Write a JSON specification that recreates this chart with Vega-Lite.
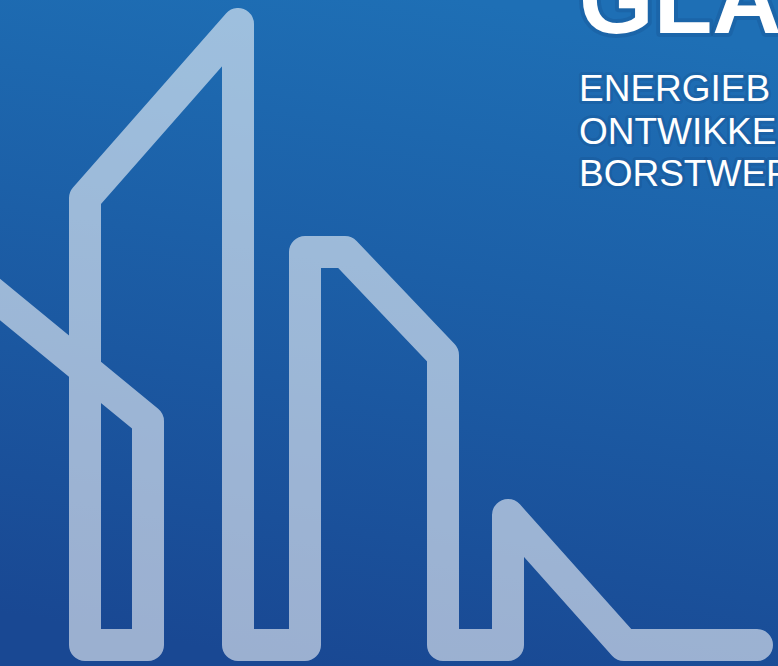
{
  "$schema": "https://vega.github.io/schema/vega-lite/v6.json",
  "width": 778,
  "height": 666,
  "padding": 0,
  "autosize": {"type": "fit", "contains": "padding"},
  "config": {"view": {"stroke": null}},
  "datasets": {
    "bg": [{"x0": 0, "x1": 778, "y0": 0, "y1": 666}],
    "path": [
      {"i": 0, "x": -25, "y": 279},
      {"i": 1, "x": 148, "y": 421},
      {"i": 2, "x": 148, "y": 645},
      {"i": 3, "x": 85, "y": 645},
      {"i": 4, "x": 85, "y": 198},
      {"i": 5, "x": 238, "y": 24},
      {"i": 6, "x": 238, "y": 645},
      {"i": 7, "x": 305, "y": 645},
      {"i": 8, "x": 305, "y": 252},
      {"i": 9, "x": 345, "y": 252},
      {"i": 10, "x": 443, "y": 355},
      {"i": 11, "x": 443, "y": 645},
      {"i": 12, "x": 508, "y": 645},
      {"i": 13, "x": 508, "y": 515},
      {"i": 14, "x": 624, "y": 645},
      {"i": 15, "x": 757, "y": 645}
    ],
    "title": [{"x": 579, "y": 33, "t": "GLA"}],
    "sub": [
      {"x": 579, "y": 101, "t": "ENERGIEB"},
      {"x": 579, "y": 144, "t": "ONTWIKKE"},
      {"x": 579, "y": 186, "t": "BORSTWER"}
    ]
  },
  "layer": [
    {
      "data": {"name": "bg"},
      "mark": {
        "type": "rect",
        "stroke": null,
        "fill": {
          "gradient": "linear",
          "x1": 0.6, "y1": 0, "x2": 0.4, "y2": 1,
          "stops": [
            {"offset": 0, "color": "#1e6fb5"},
            {"offset": 1, "color": "#194893"}
          ]
        }
      },
      "encoding": {
        "x": {"field": "x0", "type": "quantitative", "scale": {"domain": [0, 778], "nice": false, "zero": false}, "axis": null},
        "x2": {"field": "x1"},
        "y": {"field": "y0", "type": "quantitative", "scale": {"domain": [0, 666], "nice": false, "zero": false, "reverse": true}, "axis": null},
        "y2": {"field": "y1"}
      }
    },
    {
      "data": {"name": "path"},
      "mark": {"type": "line", "stroke": "#ffffff", "strokeOpacity": 0.57, "strokeWidth": 32, "strokeCap": "round", "strokeJoin": "round", "clip": true},
      "encoding": {
        "x": {"field": "x", "type": "quantitative", "axis": null},
        "y": {"field": "y", "type": "quantitative", "axis": null},
        "order": {"field": "i", "type": "quantitative"}
      }
    },
    {
      "data": {"name": "title"},
      "mark": {"type": "text", "align": "left", "baseline": "alphabetic", "font": "Liberation Sans", "fontSize": 96, "fontWeight": "bold", "fill": "#0b2f62", "fillOpacity": 0.25, "stroke": "#0b2f62", "strokeWidth": 8, "strokeOpacity": 0.15, "strokeJoin": "round", "clip": true},
      "encoding": {
        "x": {"field": "x", "type": "quantitative", "axis": null},
        "y": {"field": "y", "type": "quantitative", "axis": null},
        "text": {"field": "t"}
      }
    },
    {
      "data": {"name": "title"},
      "mark": {"type": "text", "align": "left", "baseline": "alphabetic", "font": "Liberation Sans", "fontSize": 96, "fontWeight": "bold", "fill": "#ffffff", "clip": true},
      "encoding": {
        "x": {"field": "x", "type": "quantitative", "axis": null},
        "y": {"field": "y", "type": "quantitative", "axis": null},
        "text": {"field": "t"}
      }
    },
    {
      "data": {"name": "sub"},
      "mark": {"type": "text", "align": "left", "baseline": "alphabetic", "font": "Liberation Sans", "fontSize": 37, "fill": "#0b2f62", "fillOpacity": 0.2, "stroke": "#0b2f62", "strokeWidth": 6, "strokeOpacity": 0.15, "strokeJoin": "round", "clip": true},
      "encoding": {
        "x": {"field": "x", "type": "quantitative", "axis": null},
        "y": {"field": "y", "type": "quantitative", "axis": null},
        "text": {"field": "t"}
      }
    },
    {
      "data": {"name": "sub"},
      "mark": {"type": "text", "align": "left", "baseline": "alphabetic", "font": "Liberation Sans", "fontSize": 37, "fill": "#ffffff", "clip": true},
      "encoding": {
        "x": {"field": "x", "type": "quantitative", "axis": null},
        "y": {"field": "y", "type": "quantitative", "axis": null},
        "text": {"field": "t"}
      }
    }
  ]
}
